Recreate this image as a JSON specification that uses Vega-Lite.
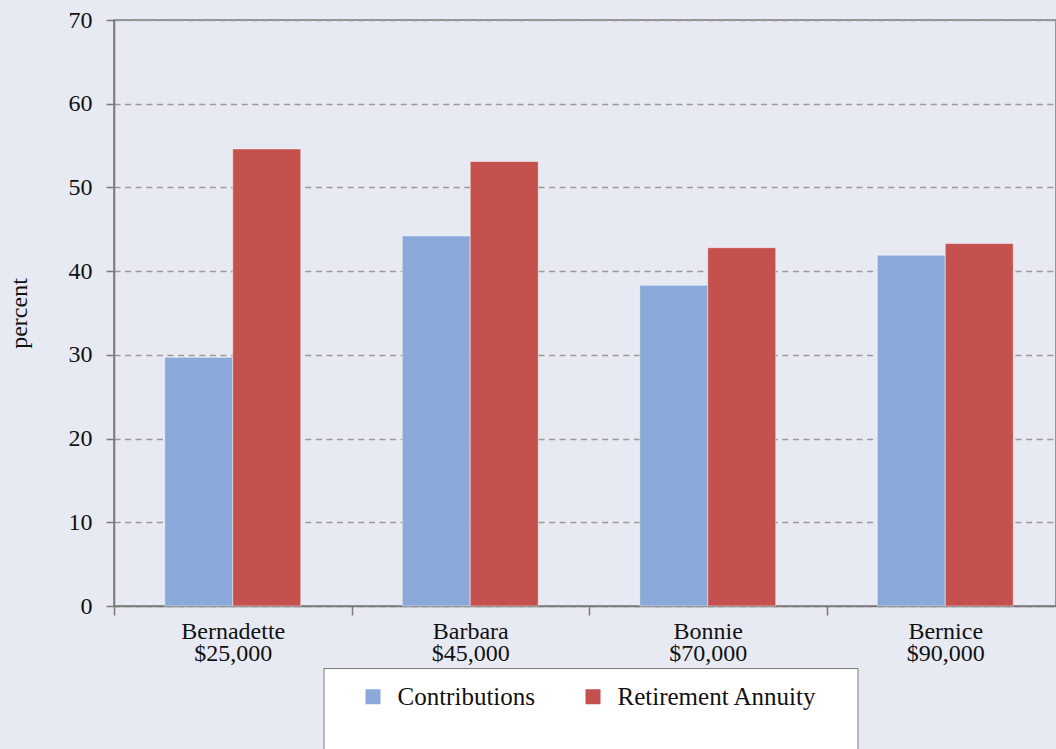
{
  "$schema": "https://vega.github.io/schema/vega-lite/v6.json",
  "autosize": "none",
  "padding": {"left": 114, "top": 20, "right": 0, "bottom": 143},
  "width": 942,
  "height": 586,
  "background": "#e7eaf2",
  "config": {
    "font": "Liberation Serif",
    "view": {"stroke": "#7a7a7a", "strokeWidth": 1.5},
    "axis": {
      "labelFont": "Liberation Serif",
      "labelFontSize": 24,
      "labelColor": "#111111",
      "titleFont": "Liberation Serif",
      "titleFontSize": 24,
      "titleFontWeight": "normal",
      "titleColor": "#111111",
      "domainColor": "#7a7a7a",
      "domainWidth": 1.5,
      "tickColor": "#7a7a7a",
      "tickWidth": 1.5
    },
    "legend": {
      "labelFont": "Liberation Serif",
      "labelFontSize": 25,
      "labelColor": "#111111"
    }
  },
  "data": {
    "values": [
      {"person": "Bernadette|$25,000", "series": "Contributions", "percent": 29.7},
      {"person": "Bernadette|$25,000", "series": "Retirement Annuity", "percent": 54.6},
      {"person": "Barbara|$45,000", "series": "Contributions", "percent": 44.2},
      {"person": "Barbara|$45,000", "series": "Retirement Annuity", "percent": 53.1},
      {"person": "Bonnie|$70,000", "series": "Contributions", "percent": 38.3},
      {"person": "Bonnie|$70,000", "series": "Retirement Annuity", "percent": 42.8},
      {"person": "Bernice|$90,000", "series": "Contributions", "percent": 41.9},
      {"person": "Bernice|$90,000", "series": "Retirement Annuity", "percent": 43.3}
    ]
  },
  "mark": {"type": "bar", "stroke": "#ffffff", "strokeOpacity": 0.45, "strokeWidth": 1},
  "encoding": {
    "x": {
      "field": "person",
      "type": "nominal",
      "sort": null,
      "scale": {"paddingInner": 0, "paddingOuter": 0, "range": [0, 950]},
      "axis": {
        "title": null,
        "labelAngle": 0,
        "tickBand": "extent",
        "tickSize": 9,
        "labelPadding": 4,
        "labelLineHeight": 22,
        "labelExpr": "split(datum.label, '|')"
      }
    },
    "xOffset": {
      "field": "series",
      "type": "nominal",
      "scale": {"paddingOuter": 0.747, "paddingInner": 0}
    },
    "y": {
      "field": "percent",
      "type": "quantitative",
      "scale": {"domain": [0, 70], "nice": false},
      "axis": {
        "title": "percent",
        "values": [0, 10, 20, 30, 40, 50, 60, 70],
        "tickSize": 8,
        "labelPadding": 14,
        "titlePadding": 37,
        "grid": true,
        "gridColor": "#9a9a9a",
        "gridWidth": 1.5,
        "gridDash": [6, 4.6]
      }
    },
    "color": {
      "field": "series",
      "type": "nominal",
      "scale": {"domain": ["Contributions", "Retirement Annuity"], "range": ["#8aa9d8", "#c4514e"]},
      "legend": {
        "title": [" ", " ", " ", " "],
        "titleOrient": "right",
        "titlePadding": 25,
        "titleFontSize": 24,
        "titleLineHeight": 24,
        "orient": "none",
        "direction": "horizontal",
        "legendX": 209.5,
        "legendY": 648,
        "padding": 16,
        "symbolOffset": 21,
        "columnPadding": 24,
        "symbolType": "square",
        "symbolSize": 225,
        "symbolStrokeWidth": 0,
        "symbolOpacity": 1,
        "labelOffset": 12,
        "labelLimit": 400,
        "fillColor": "#ffffff",
        "strokeColor": "#7a7a7a"
      }
    }
  }
}
